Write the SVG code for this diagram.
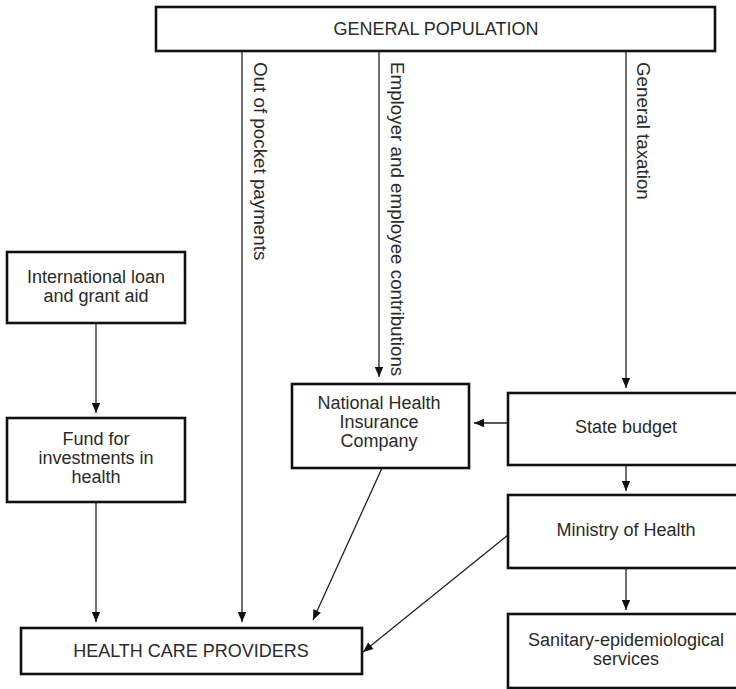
<svg xmlns="http://www.w3.org/2000/svg" width="736" height="689" viewBox="0 0 736 689">
<style>
.box{fill:#fff;stroke:#111;stroke-width:2.6}
.t{font-family:"Liberation Sans",Arial,sans-serif;font-size:18px;fill:#2a2a2a;text-anchor:middle}
.vl{font-family:"Liberation Sans",Arial,sans-serif;font-size:18.8px;fill:#2a2a2a}
.ca{stroke:#222;stroke-width:1.3;fill:none;marker-end:url(#ah)}
</style>
<defs>
<marker id="ah" viewBox="0 0 10 10" refX="10" refY="5" markerWidth="11" markerHeight="10" markerUnits="userSpaceOnUse" orient="auto">
<path d="M0,0.8 L10,5 L0,9.2 Z" fill="#111"/>
</marker>
</defs>
<rect width="736" height="689" fill="#fff"/>
<g id="connectors">
<line class="ca" x1="242" y1="51" x2="242" y2="622"/>
<line class="ca" x1="379" y1="51" x2="379" y2="377"/>
<line class="ca" x1="626" y1="51" x2="626" y2="388"/>
<line class="ca" x1="96" y1="323" x2="96" y2="413"/>
<line class="ca" x1="96" y1="502" x2="96" y2="622"/>
<line class="ca" x1="508" y1="423" x2="474" y2="423"/>
<line class="ca" x1="626" y1="465" x2="626" y2="491"/>
<line class="ca" x1="626" y1="568" x2="626" y2="610"/>
<line class="ca" x1="382" y1="468" x2="313" y2="620"/>
<line class="ca" x1="508" y1="535" x2="363" y2="652"/>
<text class="vl" transform="translate(254,62) rotate(90)">Out of pocket payments</text>
<text class="vl" transform="translate(391,62) rotate(90)">Employer and employee contributions</text>
<text class="vl" transform="translate(637,62) rotate(90)">General taxation</text>
</g>
<g id="general-population">
<rect class="box" x="156" y="7" width="559" height="44"/>
<text class="t" x="436" y="35">GENERAL POPULATION</text>
</g>
<g id="international-aid">
<rect class="box" x="7" y="252" width="178" height="71"/>
<text class="t" x="96" y="283">International loan</text>
<text class="t" x="96" y="302">and grant aid</text>
</g>
<g id="fund">
<rect class="box" x="7" y="418" width="178" height="84"/>
<text class="t" x="96" y="445">Fund for</text>
<text class="t" x="96" y="464">investments in</text>
<text class="t" x="96" y="483">health</text>
</g>
<g id="nhic">
<rect class="box" x="292" y="384" width="177" height="84"/>
<text class="t" x="379" y="409">National Health</text>
<text class="t" x="379" y="428">Insurance</text>
<text class="t" x="379" y="447">Company</text>
</g>
<g id="state-budget">
<rect class="box" x="508" y="393" width="240" height="72"/>
<text class="t" x="626" y="433">State budget</text>
</g>
<g id="ministry">
<rect class="box" x="508" y="495" width="240" height="73"/>
<text class="t" x="626" y="536">Ministry of Health</text>
</g>
<g id="sanitary">
<rect class="box" x="508" y="614" width="240" height="74"/>
<text class="t" x="626" y="646">Sanitary-epidemiological</text>
<text class="t" x="626" y="665">services</text>
</g>
<g id="providers">
<rect class="box" x="21" y="628" width="341" height="46"/>
<text class="t" x="191" y="657">HEALTH CARE PROVIDERS</text>
</g>
</svg>
